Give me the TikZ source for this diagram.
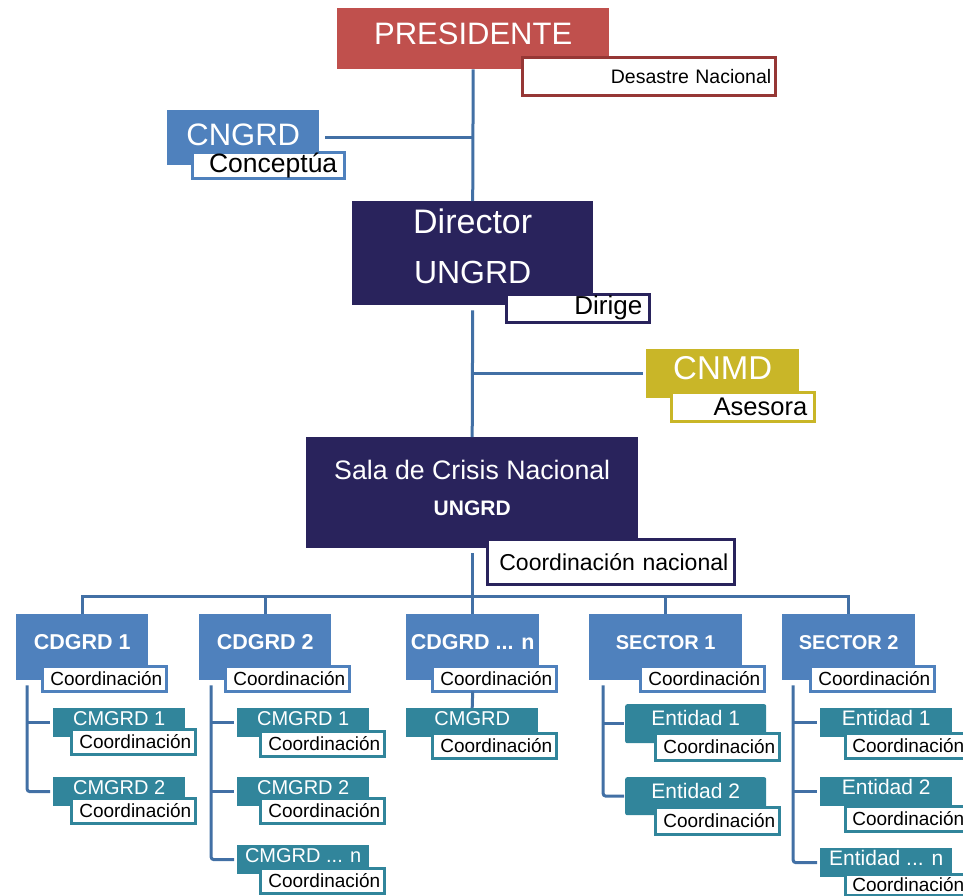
\documentclass[tikz,border=0pt]{standalone}
\usepackage{fontspec}
\setmainfont{Liberation Sans}
\usetikzlibrary{calc}
\definecolor{cred}{RGB}{192,80,77}
\definecolor{cdred}{RGB}{150,55,53}
\definecolor{cblue}{RGB}{79,129,189}
\definecolor{cnavy}{RGB}{41,35,92}
\definecolor{cmust}{RGB}{201,182,40}
\definecolor{cteal}{RGB}{49,133,155}
\definecolor{cline}{RGB}{66,112,165}
\newcommand\fsz[1]{\fontsize{#1}{#1}\selectfont}
\begin{document}
\begin{tikzpicture}[x=1pt,y=-1pt,
  box/.style={rectangle, inner sep=0pt, anchor=north west, draw=none, fill=#1},
  ttl/.style={text=white, anchor=base, inner sep=0pt},
  sub/.style={rectangle, fill=white, draw=#1, line width=2.5pt, anchor=north west,
              inner xsep=3pt, inner ysep=0pt, align=right, text=black},
  conn/.style={draw=cline, line width=3pt},
  lev3/.style={box=cblue, minimum width=#1, minimum height=66},
  lev4/.style={box=cteal, minimum width=132, minimum height=29},
  csub/.style={sub=#1, minimum width=124, minimum height=25, text width=116, font=\fsz{19}},
]
\useasboundingbox (0,0) rectangle (963,895);
\clip (0,0) rectangle (963,895);

% ---------- top ----------
\node[box=cred, minimum width=272, minimum height=61,
  label={[ttl, font=\fsz{31}, yshift=-36pt]north:PRESIDENTE}] (pres) at (337,8) {};
\node[sub=cdred, minimum width=253, minimum height=38, text width=245, font=\fsz{19.5}] (desa) at (521,56) {Desastre Nacional};

\node[box=cblue, minimum width=152, minimum height=55,
  label={[ttl, font=\fsz{31}, yshift=-35pt]north:CNGRD}] (cngrd) at (167,110) {};
\node[sub=cblue, minimum width=152, minimum height=26, text width=138, font=\fsz{26.5}] (conc) at (191,151) {Conceptúa};

\node[box=cnavy, minimum width=241, minimum height=104,
  label={[ttl, font=\fsz{34}, yshift=-32pt]north:Director},
  label={[ttl, font=\fsz{32}, yshift=-82pt]north:UNGRD}] (dir) at (352,201) {};
\node[sub=cnavy, minimum width=143, minimum height=28, text width=129, font=\fsz{26}] (dirige) at (505,293) {Dirige};

\node[box=cmust, minimum width=153, minimum height=49,
  label={[ttl, font=\fsz{33}, yshift=-30pt]north:CNMD}] (cnmd) at (646,349) {};
\node[sub=cmust, minimum width=143, minimum height=29, text width=129, font=\fsz{25.5}] (ases) at (670,391) {Asesora};

\node[box=cnavy, minimum width=332, minimum height=111,
  label={[ttl, font=\fsz{26.7}, yshift=-42pt]north:Sala de Crisis Nacional},
  label={[ttl, font=\bfseries\fsz{21}, yshift=-78pt]north:UNGRD}] (sala) at (306,437) {};
\node[sub=cnavy, minimum width=247, minimum height=45, text width=235, font=\fsz{23}] (cnac) at (486,538) {Coordinación nacional};

% ---------- level 3 ----------
\node[lev3=132, label={[ttl, font=\bfseries\fsz{21.5}, yshift=-35pt]north:CDGRD 1}] (c1) at (16,614) {};
\node[lev3=132, label={[ttl, font=\bfseries\fsz{21.5}, yshift=-35pt]north:CDGRD 2}] (c2) at (199,614) {};
\node[lev3=133, label={[ttl, font=\bfseries\fsz{21.5}, yshift=-35pt]north:CDGRD ... n}] (cn) at (406,614) {};
\node[lev3=153, label={[ttl, font=\bfseries\fsz{20}, yshift=-35pt]north:SECTOR 1}] (s1) at (589,614) {};
\node[lev3=133, label={[ttl, font=\bfseries\fsz{20}, yshift=-35pt]north:SECTOR 2}] (s2) at (782,614) {};

\node[csub=cblue] (c1s) at (41,665) {Coordinación};
\node[csub=cblue] (c2s) at (224,665) {Coordinación};
\node[csub=cblue] (cns) at (431,665) {Coordinación};
\node[csub=cblue] (s1s) at (639,665) {Coordinación};
\node[csub=cblue] (s2s) at (809,665) {Coordinación};

% ---------- level 4 ----------
\node[lev4, label={[ttl, font=\fsz{20}, yshift=-17pt]north:CMGRD 1}] (m11) at (53,708) {};
\node[csub=cteal] (m11s) at (70,728) {Coordinación};
\node[lev4, label={[ttl, font=\fsz{20}, yshift=-17pt]north:CMGRD 2}] (m12) at (53,777) {};
\node[csub=cteal] (m12s) at (70,797) {Coordinación};

\node[lev4, label={[ttl, font=\fsz{20}, yshift=-17pt]north:CMGRD 1}] (m21) at (237,708) {};
\node[csub=cteal] (m21s) at (259,730) {Coordinación};
\node[lev4, label={[ttl, font=\fsz{20}, yshift=-17pt]north:CMGRD 2}] (m22) at (237,777) {};
\node[csub=cteal] (m22s) at (259,797) {Coordinación};
\node[lev4, label={[ttl, font=\fsz{20}, yshift=-17pt]north:CMGRD ... n}] (m23) at (237,845) {};
\node[csub=cteal] (m23s) at (259,867) {Coordinación};

\node[lev4, label={[ttl, font=\fsz{20}, yshift=-17pt]north:CMGRD}] (cm) at (406,708) {};
\node[csub=cteal] (cms) at (431,732) {Coordinación};

\node[box=cteal, minimum width=141, minimum height=39, rounded corners=2pt,
  label={[ttl, font=\fsz{21}, yshift=-21pt]north:Entidad 1}] (e11) at (625,704) {};
\node[csub=cteal, minimum height=27] (e11s) at (654,732) {Coordinación};
\node[box=cteal, minimum width=141, minimum height=38, rounded corners=2pt,
  label={[ttl, font=\fsz{21}, yshift=-21pt]north:Entidad 2}] (e12) at (625,777) {};
\node[csub=cteal, minimum height=27] (e12s) at (654,806) {Coordinación};

\node[lev4, label={[ttl, font=\fsz{21}, yshift=-17pt]north:Entidad 1}] (e21) at (820,708) {};
\node[csub=cteal, text width=114] (e21s) at (844,732) {Coordinación};
\node[lev4, label={[ttl, font=\fsz{21}, yshift=-17pt]north:Entidad 2}] (e22) at (820,777) {};
\node[csub=cteal, text width=114] (e22s) at (844,805) {Coordinación};
\node[lev4, label={[ttl, font=\fsz{21}, yshift=-17pt]north:Entidad ... n}] (e23) at (820,848) {};
\node[csub=cteal, text width=114, minimum height=21] (e23s) at (844,873) {Coordinación};

% ---------- connectors ----------
\draw[conn] (pres.south) -- (dir.north);
\coordinate (j1) at (pres.south |- cngrd.east);
\draw[conn] ([xshift=6pt]cngrd.east) -- (j1);
\coordinate (dbot) at ([yshift=-5pt]dir.south);
\draw[conn] (dbot) -- (sala.north);
\draw[conn] (dbot |- cnmd.west) -- ([xshift=-3pt]cnmd.west);
\coordinate (bus) at ($(sala.south)+(0,48)$);
\draw[conn] ([yshift=-5pt]sala.south) -- (bus);
\draw[conn] (c1.north) -- (c1.north |- bus) -- (s2.north |- bus) -- (s2.north);
\draw[conn] (c2.north |- bus) -- (c2.north);
\draw[conn] (cn.north |- bus) -- (cn.north);
\draw[conn] (s1.north |- bus) -- (s1.north);

\coordinate (c1t) at ([xshift=11pt,yshift=-5pt]c1.south west);
\draw[conn, rounded corners=3pt] (c1t) |- ([xshift=-3pt]m12.west);
\draw[conn] (c1t |- m11.west) -- ([xshift=-3pt]m11.west);

\coordinate (c2t) at ([xshift=12pt,yshift=-5pt]c2.south west);
\draw[conn, rounded corners=3pt] (c2t) |- ([xshift=-3pt]m23.west);
\draw[conn] (c2t |- m21.west) -- ([xshift=-3pt]m21.west);
\draw[conn] (c2t |- m22.west) -- ([xshift=-3pt]m22.west);

\draw[conn] ([yshift=-11pt]cn.south) -- (cm.north);

\coordinate (s1t) at ([xshift=14pt,yshift=-5pt]s1.south west);
\draw[conn, rounded corners=3pt] (s1t) |- ([xshift=-1pt]e12.west);
\draw[conn] (s1t |- e11.west) -- ([xshift=-1pt]e11.west);

\coordinate (s2t) at ([xshift=11pt,yshift=-5pt]s2.south west);
\draw[conn, rounded corners=3pt] (s2t) |- ([xshift=-3pt]e23.west);
\draw[conn] (s2t |- e21.west) -- ([xshift=-3pt]e21.west);
\draw[conn] (s2t |- e22.west) -- ([xshift=-3pt]e22.west);
\end{tikzpicture}
\end{document}
